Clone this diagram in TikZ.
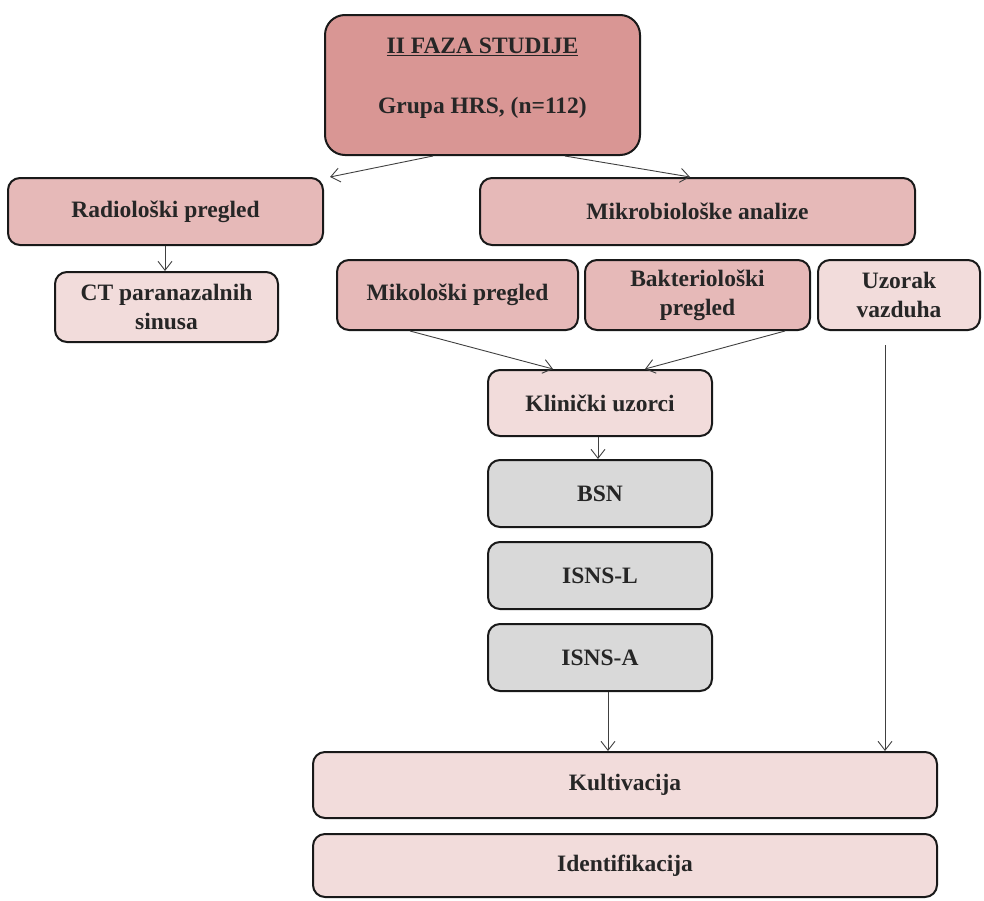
\documentclass[tikz,border=0pt]{standalone}
\usepackage{fontspec}
\setmainfont{Liberation Serif}
\usetikzlibrary{arrows.meta}
\definecolor{cdark}{HTML}{D99694}
\definecolor{cmid}{HTML}{E6B9B8}
\definecolor{clight}{HTML}{F2DCDB}
\definecolor{cgrey}{HTML}{D9D9D9}
\begin{document}
\begin{tikzpicture}[x=1pt,y=1pt,
  box/.style={draw=black!90, line width=2pt, rounded corners=12pt, inner sep=2pt,
    font=\fontsize{23.5}{29}\selectfont\bfseries, align=center, text=black!85},
  conn/.style={draw=black!75, line width=0.9pt, -{Straight Barb[length=9pt,width=14pt,line width=0.9pt]}}]
\useasboundingbox (0,0) rectangle (984,-900);
% boxes: center, width, height
\node[box, fill=cdark, minimum width=315, minimum height=140, rounded corners=20pt] (top) at (482.5,-85) {};
\node[font=\fontsize{23.5}{29}\selectfont\bfseries, text=black!85, align=center] (toptext) at (482.5,-78) {\underline{II FAZA STUDIJE}\\[31pt]Grupa HRS, (n=112)};
\node[box, fill=cmid, minimum width=315, minimum height=67] (rad) at (165.5,-211.5) {Radiološki pregled};
\node[box, fill=cmid, minimum width=435, minimum height=67] (mik) at (697.5,-211.5) {Mikrobiološke analize};
\node[box, fill=clight, minimum width=223, minimum height=70] (ct) at (166.5,-307) {CT paranazalnih\\sinusa};
\node[box, fill=cmid, minimum width=241, minimum height=70] (miko) at (457.5,-295) {Mikološki pregled};
\node[box, fill=cmid, minimum width=225, minimum height=70] (bakt) at (697.5,-295) {Bakteriološki\\pregled};
\node[box, fill=clight, minimum width=162, minimum height=70] (uzo) at (899,-295) {Uzorak\\vazduha};
\node[box, fill=clight, minimum width=224, minimum height=66] (klin) at (600,-403) {Klinički uzorci};
\node[box, fill=cgrey, minimum width=224, minimum height=67] (bsn) at (600,-493.5) {BSN};
\node[box, fill=cgrey, minimum width=224, minimum height=67] (isl) at (600,-575.5) {ISNS-L};
\node[box, fill=cgrey, minimum width=224, minimum height=67] (isa) at (600,-657.5) {ISNS-A};
\node[box, fill=clight, minimum width=624, minimum height=66] (kult) at (625,-785) {Kultivacija};
\node[box, fill=clight, minimum width=624, minimum height=63] (ident) at (625,-865.5) {Identifikacija};
% connectors
\draw[conn] (top.south -| 433,0) -- (rad.north east -| 330,0);
\draw[conn] (top.south -| 565,0) -- (mik.north -| 690,0);
\draw[conn] (rad.south -| 165,0) -- (ct.north -| 165,0);
\draw[conn] (miko.south -| 410,0) -- (klin.north -| 553,0);
\draw[conn] (bakt.south -| 785,0) -- (klin.north -| 645,0);
\coordinate (uzostart) at (885,-345);
\draw[conn] (uzostart) -- (kult.north -| uzostart);
\draw[conn] (klin.south -| 598,0) -- (bsn.north -| 598,0);
\draw[conn] (isa.south -| 608,0) -- (kult.north -| 608,0);
\end{tikzpicture}
\end{document}
